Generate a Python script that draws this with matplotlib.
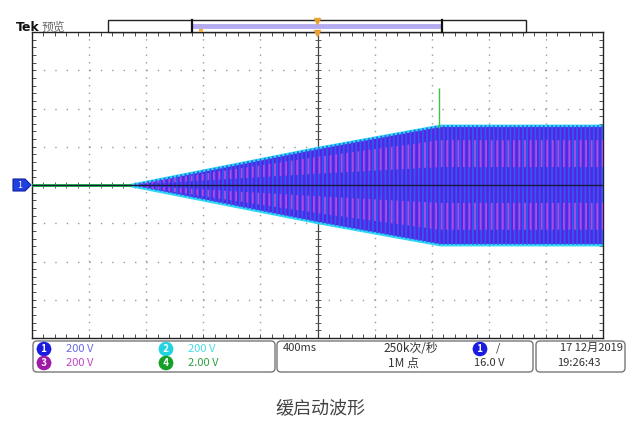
import matplotlib

matplotlib.use("Agg")
import matplotlib.pyplot as plt
import numpy as np
from matplotlib.patches import FancyBboxPatch, Polygon, Rectangle

plt.rcParams["font.family"] = ["Noto Sans CJK SC", "DejaVu Sans"]
plt.rcParams["hatch.linewidth"] = 1.3

# envelope of channel 1 (divisions): time vs. peak amplitude
env_time = [0.0, 1.68, 5.0, 7.14, 10.0]
env_amp = [0.0, 0.0, 0.98, 1.56, 1.56]

# channel 4 (green) trace: flat at zero plus a single spike
ch4_time = [0.0, 1.72]
ch4_level = [0.0, 0.0]
spike_time = 7.13
spike_top = 2.54
spike_base = 1.5

# readout texts
channels = ["1", "2", "3", "4"]
channel_scale = ["200 V", "200 V", "200 V", "2.00 V"]
timebase = "400ms"
sample_rate = "250k次/秒"
record_len = "1M 点"
trigger_level = "16.0 V"
date_text = "17 12月2019"
time_text = "19:26:43"
caption = "缓启动波形"

W, H = 639, 448
fig = plt.figure(figsize=(W / 100, H / 100), dpi=100)
fig.patch.set_facecolor("white")

# ---- graticule axes
x0, x1, y0, y1 = 32, 603, 32, 338
ax = fig.add_axes([x0 / W, 1 - y1 / H, (x1 - x0) / W, (y1 - y0) / H])
ax.set_xlim(0, 10)
ax.set_ylim(-4, 4)
for s in ax.spines.values():
    s.set_color("#222222")
    s.set_linewidth(1.0)
ax.set_xticks(range(11))
ax.set_yticks(range(-4, 5))
ax.set_xticks(np.arange(0, 10.01, 0.2), minor=True)
ax.set_yticks(np.arange(-4, 4.01, 0.2), minor=True)
ax.tick_params(which="both", direction="in", length=3, width=0.6, color="#333333",
               top=True, right=True, labelbottom=False, labelleft=False)

for gx in range(1, 10):
    if gx != 5:
        ax.axvline(gx, color="#9a9a9a", lw=1.0, ls=(0, (1, 4.5)), zorder=1)
for gy in range(-3, 4):
    if gy != 0:
        ax.axhline(gy, color="#9a9a9a", lw=1.0, ls=(0, (1, 7.2)), zorder=1)

# center cross with minor ticks
ax.axvline(5, color="#444444", lw=0.9, zorder=1)
ax.plot(np.arange(0, 10.01, 0.2), np.zeros(51), ls="none", marker="|", ms=4,
        mew=0.6, color="#444444", zorder=1)
ax.plot(np.full(41, 5.0), np.arange(-4, 4.01, 0.2), ls="none", marker="_", ms=5,
        mew=0.6, color="#444444", zorder=1)

# channel 1 waveform envelope
t = np.array(env_time)
a = np.array(env_amp)
ax.fill_between(t, -a, a, facecolor="#5a22e4", edgecolor="#30d8f5", lw=1.8, zorder=2)
ax.fill_between(t, -a, a, facecolor="none", edgecolor="#2c5cf0", lw=0, hatch="||||",
                zorder=3)
ax.fill_between(t, a * 0.3, a * 0.75, facecolor="none", edgecolor="#b04ae0", lw=0,
                hatch="|||", zorder=3)
ax.fill_between(t, -a * 0.75, -a * 0.3, facecolor="none", edgecolor="#b04ae0", lw=0,
                hatch="|||", zorder=3)

# channel 4 trace and center line
ax.plot(ch4_time, ch4_level, color="#2cc640", lw=2.0, zorder=4)
ax.axhline(0, color="#1a1a40", lw=1.0, zorder=5)
ax.vlines(spike_time, spike_base, spike_top, color="#3cc23c", lw=1.0, zorder=4)

# ---- overlay in pixel coordinates
ov = fig.add_axes([0, 0, 1, 1])
ov.set_xlim(0, W)
ov.set_ylim(H, 0)
ov.axis("off")
ov.patch.set_alpha(0)

# top header
ov.text(16, 27.5, "Tek", fontsize=9, fontweight="bold", color="#111111", va="center",
        family=["DejaVu Sans"])
ov.text(42, 27.5, "预览", fontsize=8.5, color="#666666", va="center")
ov.add_patch(Rectangle((108, 20), 418, 12, fc="white", ec="#222222", lw=1.0))
ov.plot([192, 442], [26, 26], color="#b4acf0", lw=3.5, solid_capstyle="butt")
ov.plot([192, 192], [20, 32], color="#111111", lw=1.6)
ov.plot([442, 442], [20, 32], color="#111111", lw=1.6)
ov.add_patch(Rectangle((199, 24), 4, 8, fc="#f0b040", ec="none"))
ov.plot([317], [21], marker="v", ms=5, color="#e8a030")
ov.plot([317], [33], marker="v", ms=5, color="#e8a030")

# channel 1 ground marker
ov.add_patch(Polygon([(13, 179), (25, 179), (31, 185), (25, 191), (13, 191)],
                     closed=True, fc="#2040e0", ec="#1020a0", lw=0.8))
ov.text(20, 185.5, "1", fontsize=6.5, color="white", ha="center", va="center")

# status bar boxes
for bx, bw in [(33, 242), (277, 256), (536, 89)]:
    ov.add_patch(FancyBboxPatch((bx, 341), bw, 31, boxstyle="round,pad=0,rounding_size=4",
                                fc="white", ec="#777777", lw=1.0))

badge_colors = ["#1c1ce0", "#22d4e0", "#a018a8", "#14a028"]
text_colors = ["#6a6ae8", "#48dce6", "#c044c8", "#30a040"]
badge_pos = [(44, 349), (166, 349), (44, 363), (166, 363)]
badge_box = dict(boxstyle="round,pad=0.25,rounding_size=0.9", ec="none")
for ch, sc, bc, tc, (px, py) in zip(channels, channel_scale, badge_colors, text_colors,
                                     badge_pos):
    ov.text(px, py, " " + ch + " ", fontsize=7, color="white", ha="center", va="center",
            fontweight="bold", bbox=dict(badge_box, fc=bc))
    ov.text(px + 22, py, sc, fontsize=8, color=tc, va="center")

ov.text(283, 348, timebase, fontsize=8, color="#333333", va="center")
ov.text(383, 348, sample_rate, fontsize=8.5, color="#333333", va="center")
ov.text(388, 363, record_len, fontsize=8.5, color="#333333", va="center")
ov.text(480, 349, " 1 ", fontsize=7, color="white", ha="center", va="center",
        fontweight="bold", bbox=dict(badge_box, fc="#1c1ce0"))
ov.text(496, 348, "/", fontsize=8, color="#333333", va="center")
ov.text(474, 363, trigger_level, fontsize=8, color="#333333", va="center")
ov.text(623, 348, date_text, fontsize=8, color="#333333", va="center", ha="right")
ov.text(557, 363, time_text, fontsize=8, color="#333333", va="center")

# caption
ov.text(320, 408, caption, fontsize=13, color="#444444", ha="center", va="center")

fig.savefig("out.png", dpi=100)
